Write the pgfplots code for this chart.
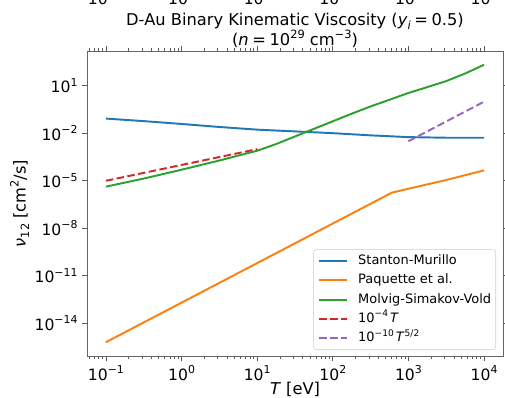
\documentclass[border=0pt]{standalone}
\usepackage{fontspec}
\setmainfont{DejaVu Sans}
\usepackage{pgfplots}
\pgfplotsset{compat=1.18}
\usetikzlibrary{calc}

\definecolor{c0}{HTML}{1F77B4}
\definecolor{c1}{HTML}{FF7F0E}
\definecolor{c2}{HTML}{2CA02C}
\definecolor{c3}{HTML}{D62728}
\definecolor{c4}{HTML}{9467BD}

% superscripts and subscripts at 70% of the current size
\makeatletter
\newcommand\sups[1]{\raisebox{0.42em}{\edef\@tmpsz{\strip@pt\dimexpr0.7\dimexpr\f@size pt\relax\relax}\fontsize{\@tmpsz}{\@tmpsz}\selectfont #1}}
\newcommand\subs[1]{\raisebox{-0.22em}{\edef\@tmpsz{\strip@pt\dimexpr0.7\dimexpr\f@size pt\relax\relax}\fontsize{\@tmpsz}{\@tmpsz}\selectfont #1}}
\makeatother

\newcommand\tickfont{\fontsize{11.7}{13}\selectfont}
\newcommand\labfont{\fontsize{12.2}{14}\selectfont}

\begin{document}
\begin{tikzpicture}
\begin{axis}[
  name=main,
  scale only axis, width=312pt, height=228.75pt,
  xmode=log, ymode=log,
  xmin=0.05623, xmax=17783, ymin=8.51e-17, ymax=1585,
  xtick={0.1,1,10,100,1000,10000},
  xticklabels={10\sups{−1},10\sups{0},10\sups{1},10\sups{2},10\sups{3},10\sups{4}},
  minor xtick={0.06,0.07,0.08,0.09,0.2,0.3,0.4,0.5,0.6,0.7,0.8,0.9,2,3,4,5,6,7,8,9,
               20,30,40,50,60,70,80,90,200,300,400,500,600,700,800,900,
               2000,3000,4000,5000,6000,7000,8000,9000},
  ytick={1e-14,1e-11,1e-8,1e-5,1e-2,10},
  yticklabels={10\sups{−14},10\sups{−11},10\sups{−8},10\sups{−5},10\sups{−2},10\sups{1}},
  minor ytick={},
  tick align=outside,
  major tick length=3.6pt, minor tick length=2.1pt,
  every tick/.style={black!65, line width=0.6pt},
  every minor tick/.style={black!65, line width=0.45pt},
  axis line style={black!60, line width=0.6pt},
  tick label style={font=\tickfont},
  legend cell align=left,
  legend image code/.code={\draw[#1] (0pt,0pt) -- (21pt,0pt);},
  legend style={at={(rel axis cs:1,0)}, anchor=south east,
    xshift=-5.25pt, yshift=4.5pt,
    draw=black!20, rounded corners=2pt, fill=white, fill opacity=0.8, text opacity=1,
    font=\fontsize{9.7}{11}\selectfont,
    inner xsep=3.5pt, inner ysep=4pt,
    row sep=5.5pt, column sep=7.5pt,
    nodes={inner sep=0pt, text height=7pt, text depth=2pt}},
]
% Stanton-Murillo
\addplot[c0, line width=1.45pt] coordinates {
  (0.1,0.0851) (0.3162,0.0589) (1,0.0389) (3.162,0.0251) (10,0.0170)
  (31.62,0.0132) (100,0.0102) (316.2,0.00741) (1000,0.00575)
  (3162,0.00525) (10000,0.00525)};
% Paquette et al.
\addplot[c1, line width=1.45pt] coordinates {
  (0.1,6.31e-16) (602.6,1.778e-6) (1000,3.16e-6) (3162,1.12e-5) (10000,4.57e-5)};
% Molvig-Simakov-Vold
\addplot[c2, line width=1.45pt] coordinates {
  (0.1,4.27e-6) (0.3162,1.38e-5) (1,5.01e-5) (3.162,1.91e-4) (10,7.94e-4)
  (17.78,2.09e-3) (31.62,6.31e-3) (56.23,1.91e-2) (100,5.75e-2)
  (177.8,0.174) (316.2,0.501) (562.3,1.318) (1000,3.55) (1778,8.32)
  (3162,19.95) (5623,60.3) (10000,213.8)};
% 1e-4 T
\addplot[c3, line width=1.45pt, dash pattern=on 5.6pt off 2.6pt] coordinates {
  (0.1,1e-5) (10,1e-3)};
% 1e-10 T^{5/2}
\addplot[c4, line width=1.45pt, dash pattern=on 5.6pt off 2.6pt] coordinates {
  (1000,3.162e-3) (10000,1)};
\legend{Stanton-Murillo, Paquette et al., Molvig-Simakov-Vold,
  10\sups{−4}\,\textit{T}, 10\sups{−10}\,\textit{T}\sups{5/2}}

\coordinate (bl) at (rel axis cs:0,0);
\coordinate (tr) at (rel axis cs:1,1);
\coordinate (tl) at (rel axis cs:0,1);
\coordinate (br) at (rel axis cs:1,0);
\end{axis}

% titles and axis labels
\node[anchor=base, font=\labfont] at ($($(tl)!0.5!(tr)$)+(0,19.1pt)$)
  {D-Au Binary Kinematic Viscosity (\textit{y}\subs{\textit{i}}\hspace{0.22em}=\hspace{0.22em}0.5)};
\node[anchor=base, font=\labfont] at ($($(tl)!0.5!(tr)$)+(0,4.1pt)$)
  {(\textit{n}\hspace{0.22em}=\hspace{0.22em}10\sups{29} cm\sups{−3})};
\node[anchor=base, font=\labfont] at ($($(bl)!0.5!(br)$)+(0,-29.25pt)$)
  {\textit{T} [eV]};
\node[rotate=90, anchor=center, font=\labfont] at ($($(bl)!0.5!(tl)$)+(-50.5pt,0)$)
  {\textit{ν}\subs{12} [cm\sups{2}/s]};

% tick labels of the panel above, mostly outside the page
\begin{axis}[
  at={($(tl)+(0pt,35.2pt)$)}, anchor=south west,
  scale only axis, width=312pt, height=10pt,
  xmode=log, xmin=0.05623, xmax=17783, ymin=0, ymax=1,
  axis x line*=bottom, hide y axis,
  x axis line style={draw=none},
  major tick length=0pt, minor tick length=0pt,
  xtick={0.1,1,10,100,1000,10000},
  xticklabels={10\sups{−1},10\sups{0},10\sups{1},10\sups{2},10\sups{3},10\sups{4}},
  minor xtick={},
  xticklabel style={anchor=base, font=\tickfont},
]
\addplot[draw=none] coordinates {(1,0.5)};
\end{axis}

\pgfresetboundingbox
\path[use as bounding box] ($(bl)+(-65.25pt,-31.5pt)$) rectangle ($(tr)+(1.5pt,38.25pt)$);
\end{tikzpicture}
\end{document}
